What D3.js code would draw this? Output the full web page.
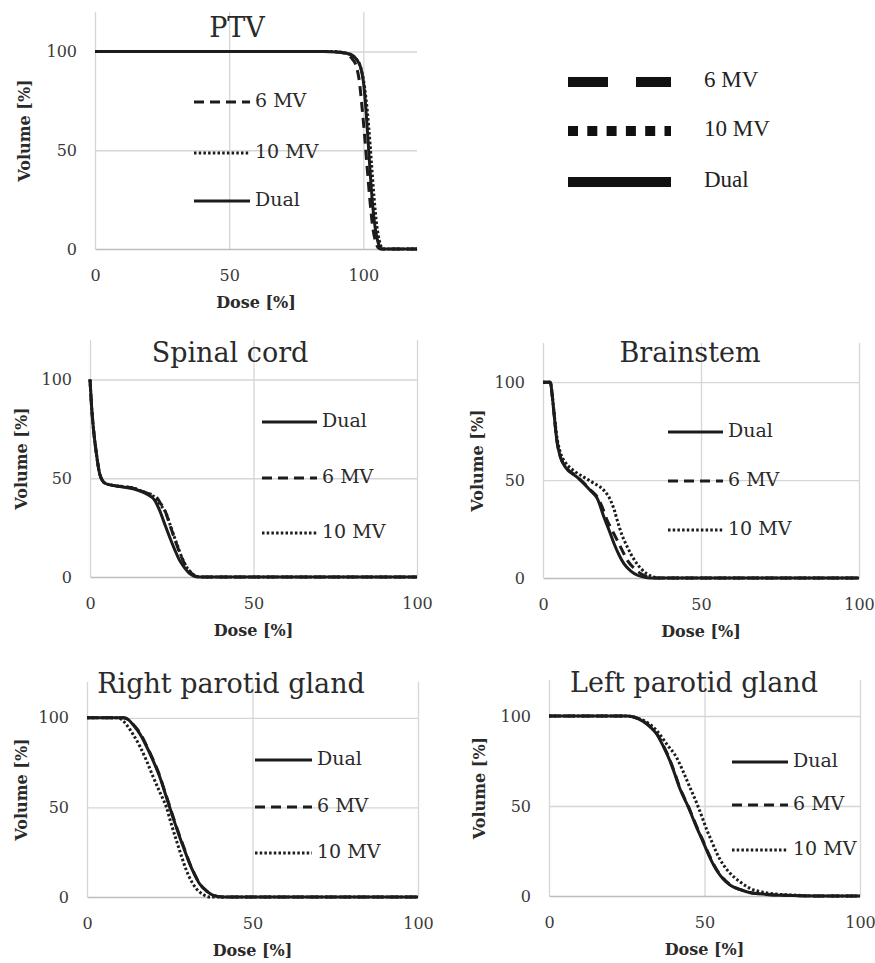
<!DOCTYPE html>
<html>
<head>
<meta charset="utf-8">
<script src="https://cdn.jsdelivr.net/npm/d3@7"></script>
<style>
  body { margin: 0; background: #fff; }
</style>
</head>
<body>
<div id="myChart"></div>
<script>
// tick values shared by every panel
const doseTicks = [0, 50, 100];
const volumeTicks = [0, 50, 100];
const seriesNames = ["Dual", "6 MV", "10 MV"];

// DVH curves, [dose %, volume %]
const ptvDual = [[0,100],[85,100],[90,99.8],[94,99],[96,98],[98,95],[99,92],[100,85],[101,70],[102,50],[103,30],[104,15],[105,6],[106,1.5],[107,0],[120,0]];
const ptv6 = [[0,100],[86,100],[91,99.6],[94,98.5],[96,96],[97.5,92],[98.5,85],[99.5,72],[100.5,57],[101.5,40],[102.5,24],[103.5,11],[104.5,4],[105.5,0.8],[106.5,0],[120,0]];
const ptv10 = [[0,100],[88,100],[92,99.6],[95,98.5],[97.5,96],[99,92],[100,86],[101,76],[102,62],[103,44],[104,26],[105,12],[106,4],[107,0.6],[108,0],[120,0]];

const cordDual = [[0,100],[0.5,86],[1,76],[2,62],[3,52],[4.6,47.5],[7,46.4],[10,45.6],[13.2,44.7],[17.3,42],[19.8,38.8],[21.3,33.7],[22.8,27],[24.4,20],[26,13.5],[27.4,8.4],[29,4.5],[30.5,1.7],[33,0],[100,0]];
const cord6 = [[0,100],[0.5,86],[1,76],[2,62],[3,52],[4.6,47.5],[7,46.4],[10,45.8],[13.2,45],[17.3,42.6],[20.3,40.5],[21.5,37.5],[22.9,33.7],[24.6,25.5],[26.4,16.9],[28,10],[29.5,5],[31,2],[32.5,0.3],[33.5,0],[100,0]];
const cord10 = [[0,100],[0.5,86],[1,76],[2,62],[3,52],[4.6,47.5],[7,46.4],[10,45.8],[13.2,45],[17.3,42.4],[20.1,40],[21.6,36.5],[23.2,32.5],[24.8,25],[26.6,16.5],[28.2,9.5],[29.7,4.6],[31.2,1.8],[32.8,0.3],[34,0],[100,0]];

const stemDual = [[0,100],[2.3,100],[3,92],[3.4,85.5],[4.4,70],[5.5,61.7],[7.1,56.6],[10.8,51.5],[15,44.7],[17.2,40.5],[19.3,31],[21,24],[22.5,17.5],[24,12],[25.6,7.3],[27.8,3.5],[29.9,1.4],[32.5,0.3],[35,0],[100,0]];
const stem6 = [[0,100],[2.3,100],[3,92],[3.4,85.5],[4.4,70],[5.5,62],[7.1,57],[10.8,51.8],[15,45],[17.5,40.5],[18.8,36],[20.3,29.4],[22,24],[23.5,19.2],[25.1,14],[26.7,9],[28.8,5],[31,2.2],[33.3,0.6],[35.7,0],[100,0]];
const stem10 = [[0,100],[2.3,100],[3,92],[3.4,86],[4.4,72],[5.5,64],[7.1,59],[10,54.5],[12.9,51.5],[16,48.5],[19.3,44.7],[21.4,39.6],[22.5,35],[23.5,29.4],[25,22],[26.7,15.8],[28.8,9.5],[31,4.8],[33,2],[35,0.5],[37,0],[100,0]];

const rightDual = [[0,100],[11,100],[12.5,99],[14,96],[16,91],[18,84],[20,76],[22,67],[23.5,58.5],[25,50],[26.5,41.5],[28,33.5],[29.5,26],[31,18.6],[32.5,12.5],[34,7.4],[36,3.5],[38,1],[41,0],[100,0]];
const right6 = [[0,100],[11,100],[12.5,99],[14,96.2],[16,91.5],[18,84.5],[20,76.5],[22,67.5],[23.5,59],[25,50.5],[26.5,42],[28,34],[29.5,26.5],[31,19],[32.5,12.8],[34,7.6],[36,3.6],[38,1],[41,0],[100,0]];
const right10 = [[0,100],[9,100],[10.5,99],[12,96],[14,90.5],[16,84],[18,76],[20,67],[22,58.5],[24,50],[25.5,40.5],[27,31.6],[28.5,23],[30,15],[31.5,9],[33,4.7],[35,1.5],[37,0],[100,0]];

const leftDual = [[0,100],[25,100],[27.5,99.3],[30.3,97],[32.5,94],[34.6,90],[36.8,83],[38.9,75],[40.5,67.5],[42,60],[43.4,54.5],[44.8,49.4],[46.2,43.5],[47.5,38],[49.2,31.5],[50.8,25],[52.4,19],[54,14],[56,9.5],[58.3,6],[61.5,3.5],[64.7,1.8],[70,0.9],[75.5,0.4],[86,0],[100,0]];
const left6 = [[0,100],[25,100],[27.5,99.3],[30.3,97.2],[32.5,94.2],[34.6,90.3],[36.8,83.5],[38.9,75.5],[40.5,68],[42,60.5],[43.4,55],[44.8,49.8],[46.2,44],[47.5,38.5],[49.2,32],[50.8,25.5],[52.4,19.5],[54,14.4],[56,9.8],[58.3,6.2],[61.5,3.6],[64.7,1.9],[70,0.9],[75.5,0.4],[86,0],[100,0]];
const left10 = [[0,100],[25,100],[28,99],[31,97],[34.6,92],[38,84],[41,77],[43.3,68.5],[45.4,60],[46.8,54.5],[48,49.4],[49.4,43],[50.8,36.5],[52.4,30],[54,23.6],[56,17.5],[58.3,12.5],[61.5,7.8],[64.7,4.2],[68.5,2.2],[73,1.1],[80,0.4],[86,0],[100,0]];

// line style for each series
const seriesStyle = {
  "Dual":  { dash: null,    width: 3 },
  "6 MV":  { dash: "10,6",  width: 3 },
  "10 MV": { dash: "2.5,2.2", width: 3 }
};

// panel placement on the page
const panels = [
  { title: "PTV", data: { "Dual": ptvDual, "6 MV": ptv6, "10 MV": ptv10 }, xMax: 120,
    left: 95, right: 417, top: 12, bottom: 249, titleX: 237, titleY: 37, volX: 25,
    legendOrder: ["6 MV", "10 MV", "Dual"], legendX: [99, 155], legendY: [90, 141, 189] },
  { title: "Spinal cord", data: { "Dual": cordDual, "6 MV": cord6, "10 MV": cord10 }, xMax: 100,
    left: 90, right: 417, top: 340, bottom: 577, titleX: 230, titleY: 362, volX: 22,
    legendOrder: ["Dual", "6 MV", "10 MV"], legendX: [172, 227], legendY: [82, 138, 193] },
  { title: "Brainstem", data: { "Dual": stemDual, "6 MV": stem6, "10 MV": stem10 }, xMax: 100,
    left: 543, right: 859, top: 343, bottom: 578, titleX: 690, titleY: 362, volX: 478,
    legendOrder: ["Dual", "6 MV", "10 MV"], legendX: [125, 180], legendY: [89, 138, 187] },
  { title: "Right parotid gland", data: { "Dual": rightDual, "6 MV": right6, "10 MV": right10 }, xMax: 100,
    left: 87, right: 418, top: 682, bottom: 897, titleX: 231, titleY: 693, volX: 22,
    legendOrder: ["Dual", "6 MV", "10 MV"], legendX: [168, 225], legendY: [78, 125, 171] },
  { title: "Left parotid gland", data: { "Dual": leftDual, "6 MV": left6, "10 MV": left10 }, xMax: 100,
    left: 549, right: 860, top: 680, bottom: 896, titleX: 694, titleY: 692, volX: 480,
    legendOrder: ["Dual", "6 MV", "10 MV"], legendX: [183, 239], legendY: [82, 125, 170] }
];

const svg = d3.select("#myChart")
  .append("svg")
    .attr("width", 875)
    .attr("height", 963);

const serif = "'DejaVu Serif', serif";

panels.forEach(function(p) {
  const w = p.right - p.left,
        h = p.bottom - p.top;

  const x = d3.scaleLinear().domain([0, p.xMax]).range([0, w]);
  const y = d3.scaleLinear().domain([0, 120]).range([h, 0]);

  const g = svg.append("g")
    .attr("transform", `translate(${p.left}, ${p.top})`);

  // vertical gridlines
  g.append("g")
    .attr("transform", `translate(0, ${h})`)
    .call(d3.axisBottom(x).tickValues(doseTicks).tickSize(-h).tickFormat(""))
    .call(a => a.select(".domain").remove())
    .call(a => a.selectAll("line").attr("stroke", "#d6d6d6").attr("stroke-width", 1.3));

  // horizontal gridlines
  g.append("g")
    .call(d3.axisLeft(y).tickValues(volumeTicks.filter(v => v > 0)).tickSize(-w).tickFormat(""))
    .call(a => a.select(".domain").remove())
    .call(a => a.selectAll("line").attr("stroke", "#d6d6d6").attr("stroke-width", 1.3));

  // x axis line and labels
  g.append("g")
    .attr("transform", `translate(0, ${h})`)
    .call(d3.axisBottom(x).tickValues(doseTicks).tickSize(0).tickPadding(21))
    .call(a => a.select(".domain").attr("stroke", "#bdbdbd").attr("stroke-width", 1.6))
    .selectAll("text")
      .style("font-family", serif)
      .style("font-size", "16px")
      .attr("fill", "#3a3a3a");

  // y axis labels
  g.append("g")
    .call(d3.axisLeft(y).tickValues(volumeTicks).tickSize(0).tickPadding(18))
    .call(a => a.select(".domain").remove())
    .selectAll("text")
      .style("font-family", serif)
      .style("font-size", "16px")
      .attr("fill", "#3a3a3a");

  // axis titles
  g.append("text")
    .attr("x", w / 2)
    .attr("y", h + 54)
    .attr("text-anchor", "middle")
    .attr("dominant-baseline", "middle")
    .style("font-family", serif)
    .style("font-size", "16px")
    .style("font-weight", "bold")
    .attr("fill", "#2a2a2a")
    .text("Dose [%]");

  svg.append("text")
    .attr("transform", `translate(${p.volX}, ${p.top + h / 2}) rotate(-90)`)
    .attr("text-anchor", "middle")
    .attr("dominant-baseline", "middle")
    .style("font-family", serif)
    .style("font-size", "16px")
    .style("font-weight", "bold")
    .attr("fill", "#2a2a2a")
    .text("Volume [%]");

  // curves
  const line = d3.line()
    .x(d => x(d[0]))
    .y(d => y(d[1]))
    .curve(d3.curveMonotoneX);

  ["10 MV", "6 MV", "Dual"].forEach(function(name) {
    g.append("path")
      .datum(p.data[name])
      .attr("fill", "none")
      .attr("stroke", "#1c1c1c")
      .attr("stroke-width", seriesStyle[name].width)
      .attr("stroke-dasharray", seriesStyle[name].dash)
      .attr("d", line);
  });

  // in-panel legend
  p.legendOrder.forEach(function(name, i) {
    const ly = p.legendY[i];
    g.append("line")
      .attr("x1", p.legendX[0]).attr("x2", p.legendX[1])
      .attr("y1", ly).attr("y2", ly)
      .attr("stroke", "#1c1c1c")
      .attr("stroke-width", seriesStyle[name].width)
      .attr("stroke-dasharray", seriesStyle[name].dash);
    g.append("text")
      .attr("x", p.legendX[1] + 5)
      .attr("y", ly)
      .attr("dominant-baseline", "middle")
      .style("font-family", serif)
      .style("font-size", "19px")
      .attr("fill", "#2a2a2a")
      .text(name);
  });

  // panel title
  svg.append("text")
    .attr("x", p.titleX)
    .attr("y", p.titleY)
    .attr("text-anchor", "middle")
    .style("font-family", serif)
    .style("font-size", "27px")
    .attr("fill", "#2a2a2a")
    .text(p.title);
});

// big legend, top right
const bigLegend = [
  { name: "6 MV", dash: "40,28", y: 82 },
  { name: "10 MV", dash: "10,9.3", y: 131 },
  { name: "Dual", dash: null, y: 182 }
];

bigLegend.forEach(function(d) {
  svg.append("line")
    .attr("x1", 568).attr("x2", 671)
    .attr("y1", d.y).attr("y2", d.y)
    .attr("stroke", "#111")
    .attr("stroke-width", 10)
    .attr("stroke-dasharray", d.dash);
  svg.append("text")
    .attr("x", 704)
    .attr("y", d.y)
    .attr("dominant-baseline", "middle")
    .style("font-family", "'Liberation Serif', serif")
    .style("font-size", "23px")
    .attr("fill", "#222")
    .text(d.name);
});
</script>
</body>
</html>
